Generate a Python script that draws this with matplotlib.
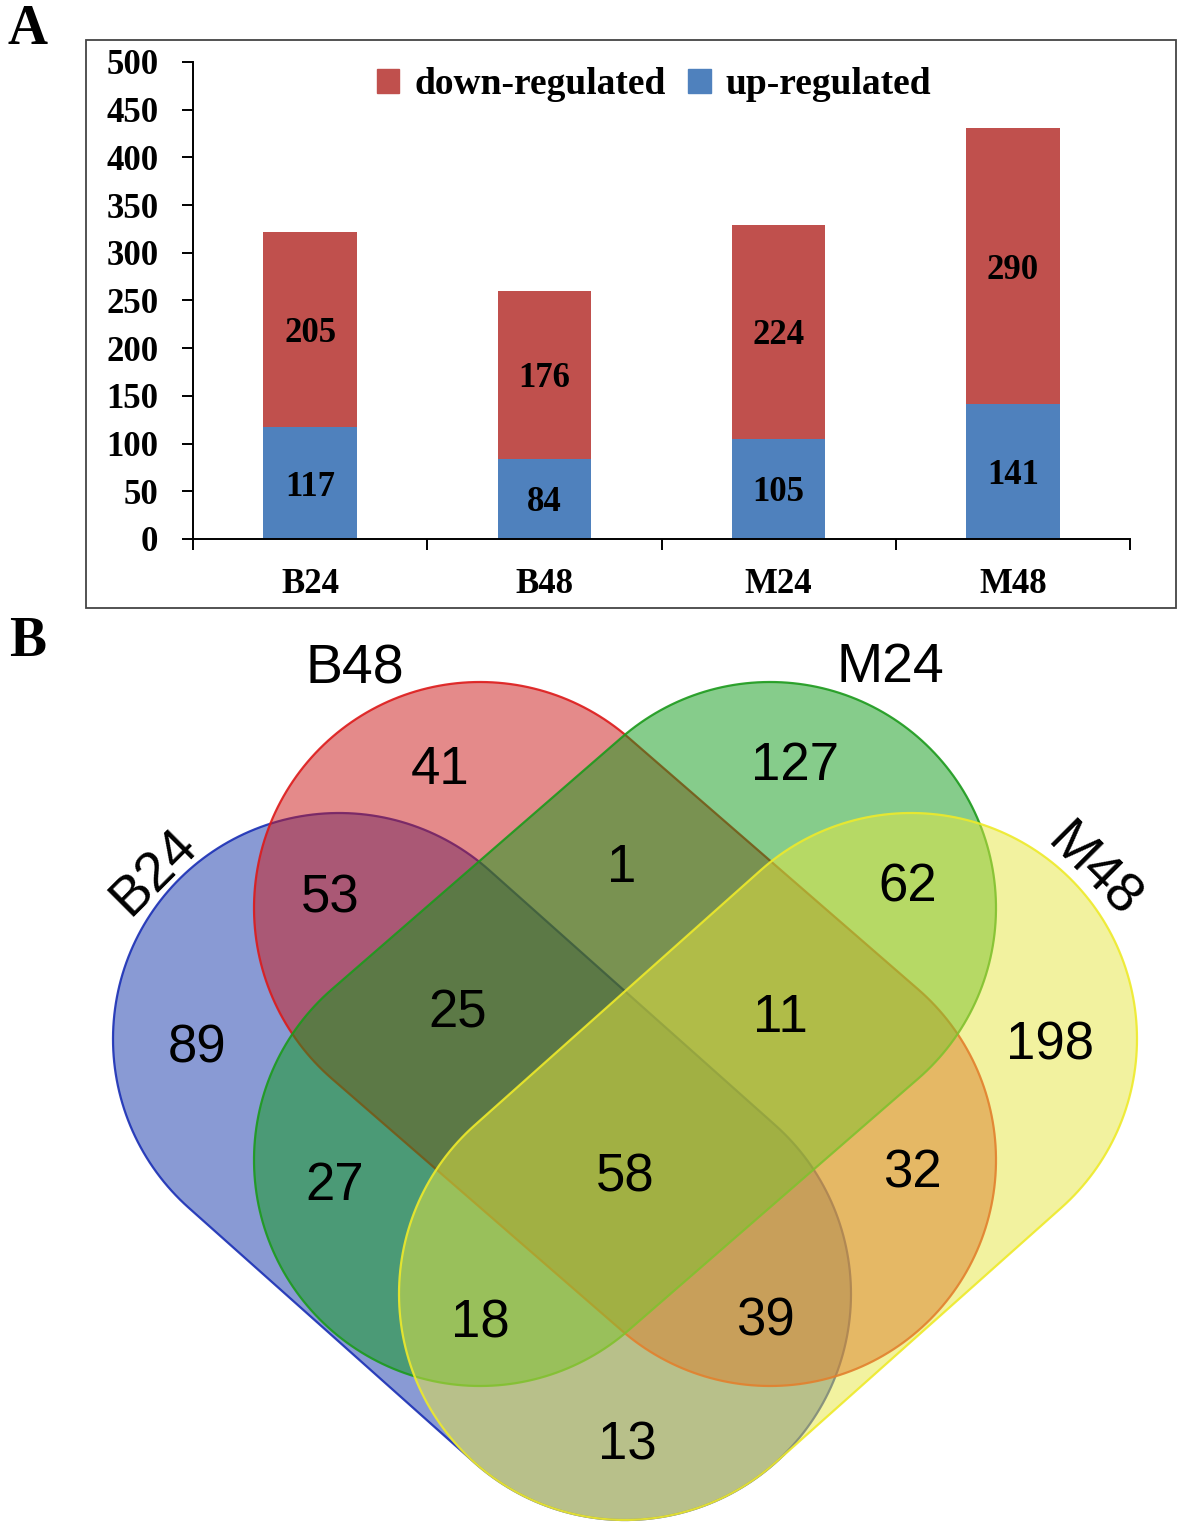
import numpy as np
import matplotlib.pyplot as plt
from matplotlib.patches import Polygon, Rectangle

# ---- panel A data
groups = ["B24", "B48", "M24", "M48"]
up_regulated = [117, 84, 105, 141]
down_regulated = [205, 176, 224, 290]

# ---- panel B data (region -> number of genes)
venn_sets = ["B24", "B48", "M24", "M48"]
venn_regions = ["B24", "B48", "M24", "M48",
                "B24&B48", "B48&M24", "M24&M48", "B24&M48", "B24&M24", "B48&M48",
                "B24&B48&M24", "B48&M24&M48", "B24&M24&M48", "B24&B48&M48",
                "B24&B48&M24&M48"]
venn_counts = [89, 41, 127, 198,
               53, 1, 62, 13, 27, 32,
               25, 11, 18, 39,
               58]

W, H = 1181, 1525
fig = plt.figure(figsize=(W / 100, H / 100), dpi=100)

serif = "Liberation Serif"
sans = "Liberation Sans"

# ================= Venn (panel B), drawn in pixel space =================
vax = fig.add_axes([0, 0, 1, 1])
vax.set_xlim(0, W)
vax.set_ylim(H, 0)
vax.axis("off")


def capsule(c1, c2, r, n=120):
    c1, c2 = np.array(c1, float), np.array(c2, float)
    d = c2 - c1
    th = np.arctan2(d[1], d[0])
    a = np.linspace(th - np.pi / 2, th + np.pi / 2, n)
    b = np.linspace(th + np.pi / 2, th + 1.5 * np.pi, n)
    p2 = c2 + r * np.column_stack([np.cos(a), np.sin(a)])
    p1 = c1 + r * np.column_stack([np.cos(b), np.sin(b)])
    return np.vstack([p2, p1])


R = 226
shapes = {
    "B24": ((339, 1039), (625, 1294), "#1537ab", "#1a2fb5"),
    "B48": ((480, 908), (770, 1160), "#cb1717", "#dd1a1a"),
    "M24": ((770, 908), (480, 1160), "#0f9b19", "#1c9a1c"),
    "M48": ((911, 1039), (625, 1294), "#e7e741", "#eeea2a"),
}
for s in venn_sets:
    c1, c2, fc, ec = shapes[s]
    vax.add_patch(Polygon(capsule(c1, c2, R), closed=True, facecolor=fc,
                          alpha=0.5, edgecolor="none"))
    vax.add_patch(Polygon(capsule(c1, c2, R), closed=True, facecolor="none",
                          edgecolor=ec, lw=1.6, alpha=0.9))

count_pos = {
    "B24": (197, 1043), "B48": (440, 765), "M24": (795, 760), "M48": (1050, 1040),
    "B24&B48": (330, 893), "B48&M24": (622, 862), "M24&M48": (908, 882),
    "B24&M48": (627, 1440), "B24&M24": (335, 1180), "B48&M48": (912, 1168),
    "B24&B48&M24": (458, 1008), "B48&M24&M48": (780, 1012),
    "B24&M24&M48": (480, 1318), "B24&B48&M48": (765, 1316),
    "B24&B48&M24&M48": (625, 1172),
}
for reg, cnt in zip(venn_regions, venn_counts):
    x, y = count_pos[reg]
    vax.text(x, y, str(cnt), ha="center", va="center_baseline", fontsize=38,
             family=sans, color="black")

set_label_pos = {"B24": (150, 868, 45), "B48": (355, 664, 0),
                 "M24": (890, 662, 0), "M48": (1097, 868, -45)}
for s in venn_sets:
    x, y, rot = set_label_pos[s]
    vax.text(x, y, s, ha="center", va="center_baseline", fontsize=40,
             family=sans, rotation=rot, rotation_mode="anchor")

# ================= bar chart (panel A) =================
ax = fig.add_axes([193 / W, 1 - 539 / H, (1130 - 193) / W, (539 - 62) / H])
x = np.arange(len(groups))
ax.bar(x, up_regulated, width=0.4, color="#4f81bd", zorder=2)
ax.bar(x, down_regulated, bottom=up_regulated, width=0.4,
       color="#c0504d", zorder=2)
for i in range(len(groups)):
    ax.text(x[i], up_regulated[i] / 2, str(up_regulated[i]), ha="center",
            va="center_baseline", fontsize=25, fontweight="bold", family=serif)
    ax.text(x[i], up_regulated[i] + down_regulated[i] / 2, str(down_regulated[i]),
            ha="center", va="center_baseline", fontsize=25, fontweight="bold",
            family=serif)

ax.set_xlim(-0.5, 3.5)
ax.set_ylim(0, 500)
ax.set_yticks(range(0, 501, 50))
ax.set_xticks(x)
ax.set_xticklabels(groups)
ax.set_xticks(np.arange(-0.5, 4, 1), minor=True)
ax.tick_params(axis="x", which="major", length=0, pad=21)
ax.tick_params(axis="x", which="minor", length=8, width=1.4, direction="out")
ax.tick_params(axis="y", length=8, width=1.4, direction="out", pad=17)
for lab in ax.get_xticklabels() + ax.get_yticklabels():
    lab.set_family(serif)
    lab.set_fontweight("bold")
    lab.set_fontsize(25)
for sp in ["top", "right"]:
    ax.spines[sp].set_visible(False)
for sp in ["left", "bottom"]:
    ax.spines[sp].set_linewidth(1.4)
ax.patch.set_alpha(0)

handles = [Rectangle((0, 0), 1, 1, color="#c0504d"),
           Rectangle((0, 0), 1, 1, color="#4f81bd")]
ax.legend(handles, ["down-regulated", "up-regulated"], loc="center",
          bbox_to_anchor=(0.492, (539 - 85) / 477), ncol=2, frameon=False,
          prop={"family": serif, "weight": "bold", "size": 27},
          handlelength=0.6, handleheight=0.6, handletextpad=0.4,
          columnspacing=0.6)

# outer frame of panel A
fig.add_artist(Rectangle((86 / W, 1 - 608 / H), (1176 - 86) / W, (608 - 40) / H,
                         transform=fig.transFigure, fill=False,
                         edgecolor="#444444", lw=1.3))

fig.text(28 / W, 1 - 30 / H, "A", ha="center", va="center", fontsize=40,
         fontweight="bold", family=serif)
fig.text(28 / W, 1 - 642 / H, "B", ha="center", va="center", fontsize=40,
         fontweight="bold", family=serif)

fig.savefig("out.png", dpi=100)
